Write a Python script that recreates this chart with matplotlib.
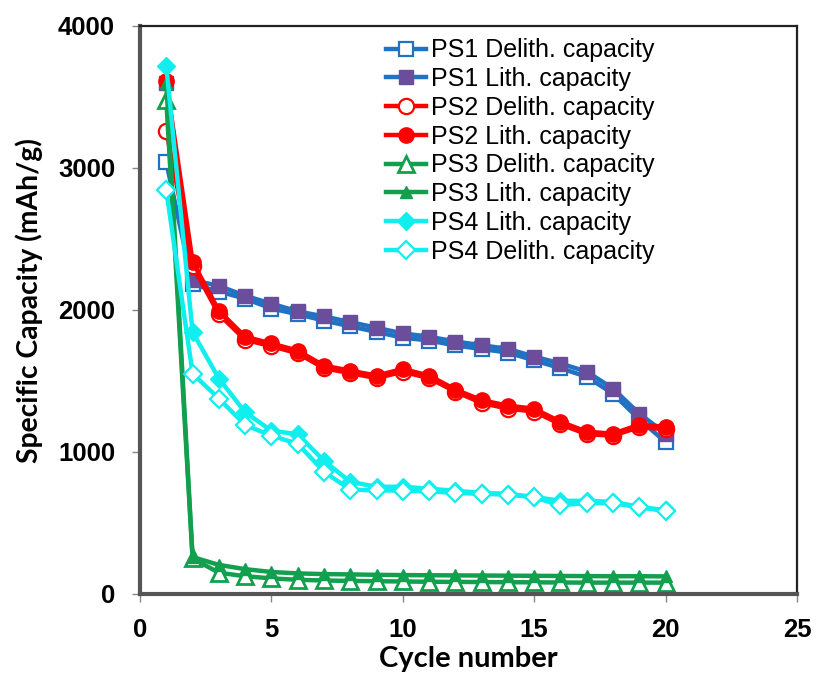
import matplotlib
matplotlib.use("Agg")
import matplotlib.pyplot as plt

cycles = list(range(1, 21))

ps1_delith = [3040, 2180, 2130, 2080, 2010, 1970, 1925, 1885, 1845, 1805, 1785, 1750, 1725, 1700, 1645, 1590, 1530, 1410, 1230, 1070]
ps1_lith = [3600, 2210, 2170, 2100, 2045, 1990, 1955, 1915, 1875, 1835, 1812, 1778, 1752, 1726, 1672, 1623, 1566, 1446, 1270, 1130]
ps2_delith = [3260, 2310, 1970, 1790, 1745, 1695, 1590, 1555, 1520, 1565, 1520, 1425, 1345, 1305, 1285, 1195, 1125, 1115, 1175, 1160]
ps2_lith = [3610, 2340, 1995, 1812, 1764, 1714, 1608, 1573, 1538, 1585, 1538, 1440, 1365, 1326, 1305, 1213, 1143, 1129, 1192, 1178]
ps3_delith = [3480, 250, 150, 125, 110, 100, 95, 92, 90, 88, 86, 85, 84, 83, 82, 81, 80, 80, 80, 80]
ps3_lith = [3600, 260, 205, 175, 155, 145, 140, 138, 135, 133, 132, 131, 130, 129, 128, 127, 126, 125, 125, 124]
ps4_lith = [3718, 1845, 1517, 1280, 1150, 1125, 938, 790, 755, 755, 741, 727, 712, 705, 684, 656, 656, 649, 614, 590]
ps4_delith = [2843, 1552, 1376, 1190, 1115, 1058, 861, 735, 730, 728, 722, 712, 705, 700, 680, 625, 640, 640, 610, 585]

blue = "#2272c3"
purple = "#6a4e9c"
red = "#ff0000"
green = "#12a04e"
cyan = "#10eeee"

plt.rcParams["font.family"] = ["Liberation Sans", "DejaVu Sans"]

fig = plt.figure(figsize=(8.16, 6.73), dpi=100)
ax = fig.add_axes([0.1716, 0.1174, 0.8051, 0.8440])

lw = 3.2
ax.plot(cycles, ps1_delith, color=blue, lw=lw, marker="s", ms=10.5, mfc="white",
        mec=blue, mew=1.6, label="PS1 Delith. capacity")
ax.plot(cycles, ps1_lith, color=blue, lw=lw, marker="s", ms=10.5, mfc=purple,
        mec=purple, mew=1.0, label="PS1 Lith. capacity")
ax.plot(cycles, ps2_delith, color=red, lw=lw, marker="o", ms=11, mfc="white",
        mec=red, mew=1.6, label="PS2 Delith. capacity")
ax.plot(cycles, ps2_lith, color=red, lw=lw, marker="o", ms=11, mfc=red,
        mec=red, label="PS2 Lith. capacity")
ax.plot(cycles, ps3_delith, color=green, lw=lw, marker="^", ms=12, mfc="white",
        mec=green, mew=2.0, label="PS3 Delith. capacity")
ax.plot(cycles, ps3_lith, color=green, lw=lw, marker="^", ms=8, mfc=green,
        mec=green, label="PS3 Lith. capacity")
ax.plot(cycles, ps4_lith, color=cyan, lw=lw, marker="D", ms=9, mfc=cyan,
        mec=cyan, label="PS4 Lith. capacity")
ax.plot(cycles, ps4_delith, color=cyan, lw=lw, marker="D", ms=9, mfc="white",
        mec=cyan, mew=1.6, label="PS4 Delith. capacity")

ax.set_xlim(0, 25)
ax.set_ylim(0, 4000)
ax.set_xticks([0, 5, 10, 15, 20, 25])
ax.set_yticks([0, 1000, 2000, 3000, 4000])

for lab in ax.get_xticklabels() + ax.get_yticklabels():
    lab.set_fontweight("bold")
    lab.set_fontsize(18.5)
ax.tick_params(axis="both", direction="out", length=6, width=1.0, color="#888888")
ax.tick_params(axis="y", pad=12)
ax.tick_params(axis="x", pad=11)

for side in ("left", "bottom"):
    ax.spines[side].set_linewidth(3)
    ax.spines[side].set_color("#555555")
for side in ("top", "right"):
    ax.spines[side].set_linewidth(1.6)
    ax.spines[side].set_color("#222222")

ax.set_xlabel("Cycle number", fontsize=21, fontweight="bold", family=["Lato", "DejaVu Sans"], labelpad=3)
ax.set_ylabel("Specific Capacity (mAh/g)", fontsize=20.3, fontweight="bold", family=["Lato", "DejaVu Sans"])
ax.yaxis.set_label_coords(-0.147, 0.517)

ax.legend(loc="upper left", bbox_to_anchor=(0.374, 0.978), frameon=False, fontsize=18,
          handlelength=1.6, handletextpad=0.2, labelspacing=0.19, borderpad=0, borderaxespad=0)

fig.savefig("out.png", dpi=100, facecolor="white")
